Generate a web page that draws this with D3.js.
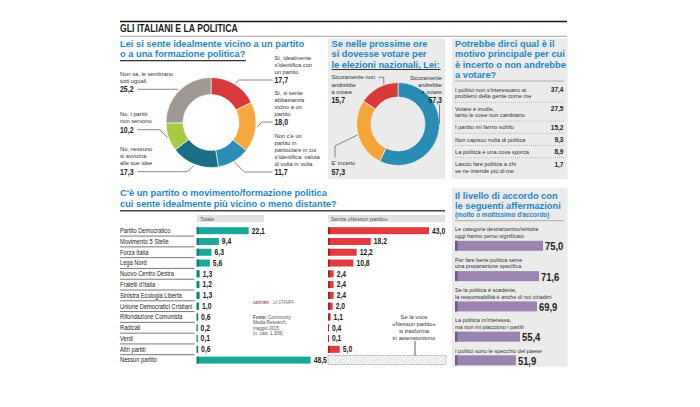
<!DOCTYPE html>
<html>
<head>
<meta charset="utf-8">
<script src="https://cdn.jsdelivr.net/npm/d3@7"></script>
<style>
    html, body { margin: 0; padding: 0; background: #fff; }
    svg { display: block; font-family: "Liberation Sans", Arial, sans-serif; }
</style>
</head>
<body>
<svg id="chart"></svg>
<script>
// Question 1: how close do you feel to a party (donut)
const closeLabels = [
    ["Sì, idealmente", "s'identifica con", "un partito"],
    ["Sì, si sente", "abbastanza", "vicino a un", "partito"],
    ["Non c'è un", "partito in", "particolare in cui", "s'identifica: valuta", "di volta in volta"],
    ["No, nessuno", "si avvicina", "alle sue idee"],
    ["No, i partiti", "non servono"],
    ["Non sa, le sembrano", "tutti uguali"]
];
const closeValues = [17.7, 18.0, 11.7, 17.3, 10.2, 25.2];

// Question 2: would you vote (donut)
const voteLabels = [
    ["Sicuramente", "andrebbe", "a votare"],
    ["E' incerto"],
    ["Sicuramente non", "andrebbe", "a votare"]
];
const voteValues = [57.3, 27.0, 15.7];
// the source prints 57,3 for "E' incerto" too
const votePrinted = ["57,3", "57,3", "15,7"];

// Question 3: main reason
const reasonLabels = [
    ["I politici non s'interessano ai", "problemi della gente come me"],
    ["Votare è inutile,", "tanto le cose non cambiano"],
    ["I partito mi fanno schifo"],
    ["Non capisco nulla di politica"],
    ["La politica è una cosa sporca"],
    ["Lascio fare politica a chi", "se ne intende più di me"]
];
const reasonValues = [37.4, 27.5, 15.2, 9.3, 8.9, 1.7];

// Question 4: closest party
const parties = [
    "Partito Democratico", "Movimento 5 Stelle", "Forza Italia", "Lega Nord",
    "Nuovo Centro Destra", "Fratelli d'Italia", "Sinistra Ecologia Libertà",
    "Unione Democratici Cristiani", "Rifondazione Comunista", "Radicali",
    "Verdi", "Altri partiti", "Nessun partito"
];
const totalValues = [22.1, 9.4, 6.3, 5.6, 1.3, 1.2, 1.3, 1.0, 0.6, 0.2, 0.1, 0.6, 48.5];
const withoutNoneValues = [43.0, 18.2, 12.2, 10.8, 2.4, 2.4, 2.4, 2.0, 1.1, 0.4, 0.1, 5.0];

// Question 5: agreement with statements
const agreeLabels = [
    ["Le categorie destra/centro/sinistra", "oggi hanno perso significato"],
    ["Per fare bene politica serve", "una preparazione specifica"],
    ["Se la politica è scadente,", "la responsabilità è anche di noi cittadini"],
    ["La politica m'interessa,", "ma non mi piacciono i partiti"],
    ["I politici sono le specchio del paese"]
];
const agreeValues = [75.0, 71.6, 69.9, 55.4, 51.9];

// Colours
const blue = '#1f87c7';
const closeColors = ['#d93a3b', '#f6a83f', '#2b8fb5', '#1b6e86', '#a9ca45', '#a09893'];
const voteColors = ['#2a8db3', '#f5a63b', '#d83a3a'];

// Layout of the donut value labels (y of the value line)
const closeValueY = [80, 122, 172, 171.7, 129.7, 89.3];

const squeeze = 0.82;
const fmt = (v) => d3.format('.1f')(v).replace('.', ',');

const svg = d3.select('#chart').attr('width', 700).attr('height', 407);
svg.append('rect').attr('width', 700).attr('height', 407).attr('fill', '#fff');

// Text helper: narrow text centred on cy
function addText(g, x, cy, str, size, opt) {
    opt = opt || {};
    return g.append('text')
        .attr('transform', `translate(${x},${(cy + size * 0.34).toFixed(2)}) scale(${opt.sx || squeeze},1)`)
        .attr('text-anchor', opt.anchor || 'start')
        .attr('font-size', size)
        .attr('font-weight', opt.bold ? 'bold' : 'normal')
        .attr('fill', opt.fill || '#333')
        .text(str);
}

// small multi-line labels
const small = { size: 6.2, sx: 0.93 };
const tiny = { size: 5.9, sx: 0.97 };

function rule(x1, x2, y, color, width, dash) {
    svg.append('line')
        .attr('x1', x1).attr('x2', x2).attr('y1', y).attr('y2', y)
        .attr('stroke', color).attr('stroke-width', width)
        .attr('stroke-dasharray', dash || null);
}

function leader(points) {
    svg.append('path')
        .attr('d', d3.line()(points))
        .attr('fill', 'none')
        .attr('stroke', '#555')
        .attr('stroke-width', 0.7);
}

function polar(cx, cy, a, r) {
    return [cx + r * Math.sin(a), cy - r * Math.cos(a)];
}

function heading(x, y0, lines) {
    lines.forEach((s, k) => addText(svg, x, y0 + k * 10.3, s, 9.2, { bold: true, fill: blue, sx: 1.01 }));
}

// Header and panel backgrounds
function drawFrame() {
    rule(120, 567, 21.5, '#1a1a1a', 1.6);
    addText(svg, 120, 28.8, 'GLI ITALIANI E LA POLITICA', 10.6, { bold: true, fill: '#1a1a1a' });
    rule(120, 567, 36.3, '#888', 0.8);

    svg.append('rect').attr('x', 328).attr('y', 38.5).attr('width', 117).attr('height', 140.5).attr('fill', '#ebebeb');
    svg.append('rect').attr('x', 452).attr('y', 38.5).attr('width', 115.5).attr('height', 140.5).attr('fill', '#ebebeb');
    svg.append('rect').attr('x', 452).attr('y', 187.7).attr('width', 115.5).attr('height', 179).attr('fill', '#ebebeb');
}

// Donut 1
function drawCloseDonut() {
    const cx = 211, cy = 122.5, R = 45, r = 28;
    heading(120, 44, ["Lei si sente idealmente vicino a un partito", "o a una formazione politica?"]);
    rule(120, 246, 60.7, '#333', 1.3);

    const pie = d3.pie().sort(null).value((d) => d)(closeValues);
    const arc = d3.arc().innerRadius(r).outerRadius(R);
    svg.append('g')
        .attr('transform', `translate(${cx},${cy})`)
        .selectAll('path')
        .data(pie)
        .enter()
        .append('path')
        .attr('d', arc)
        .attr('fill', (d, i) => closeColors[i])
        .attr('stroke', '#fff')
        .attr('stroke-width', 0.6);

    pie.forEach((d, i) => {
        const right = i < 3;
        const vy = closeValueY[i];
        const lx = right ? 274.5 : 120;
        const ex = right ? 272.5 : 137.5;
        const p = polar(cx, cy, (d.startAngle + d.endAngle) / 2, R + 1);
        const dx = Math.abs(vy - p[1]);
        const elbow = [right ? Math.min(p[0] + dx, ex) : Math.max(p[0] - dx, ex), vy];
        leader([p, elbow, [ex, vy]]);

        const lines = closeLabels[i];
        lines.forEach((s, k) => addText(svg, lx, vy - 8.5 - (lines.length - 1 - k) * 7, s, small.size, { sx: small.sx }));
        addText(svg, lx, vy, fmt(closeValues[i]), 8.5, { bold: true, fill: '#222' });
    });
}

// Donut 2
function drawVoteDonut() {
    const cx = 398, cy = 124, R = 41.5, r = 27;
    heading(331.5, 44, ["Se nelle prossime ore", "si dovesse votare per", "le elezioni nazionali, Lei:"]);
    rule(331.5, 440.5, 69.5, '#333', 1.1);

    const pie = d3.pie().sort(null).value((d) => d)(voteValues);
    const arc = d3.arc().innerRadius(r).outerRadius(R);
    svg.append('g')
        .attr('transform', `translate(${cx},${cy})`)
        .selectAll('path')
        .data(pie)
        .enter()
        .append('path')
        .attr('d', arc)
        .attr('fill', (d, i) => voteColors[i])
        .attr('stroke', '#fff')
        .attr('stroke-width', 0.6);

    const at = (d, f, rr) => polar(cx, cy, d.startAngle + f * (d.endAngle - d.startAngle), rr);

    // Sicuramente andrebbe (right)
    voteLabels[0].forEach((s, k) => addText(svg, 442, 78.3 + k * 6.8, s, tiny.size, { anchor: 'end', sx: tiny.sx }));
    addText(svg, 442, 100, votePrinted[0], 8.5, { bold: true, fill: '#222', anchor: 'end' });
    const pb = at(pie[0], 0.437, R);
    leader([[pb[0], 104.5], pb]);

    // E' incerto (bottom left)
    addText(svg, 331.5, 163.3, voteLabels[1][0], small.size, { sx: small.sx });
    addText(svg, 331.5, 172, votePrinted[1], 8.5, { bold: true, fill: '#222' });
    const po = at(pie[1], 0.5, R + 0.5);
    leader([[335, 157.5], [335, po[1] + 11], po]);

    // Sicuramente non (top left)
    voteLabels[2].forEach((s, k) => addText(svg, 331.5, 77.3 + k * 7.2, s, small.size, { sx: small.sx }));
    addText(svg, 331.5, 100, votePrinted[2], 8.5, { bold: true, fill: '#222' });
    const pr = at(pie[2], 0.65, R + 0.5);
    leader([[378.5, 77.3], [pr[0], 77.3], pr]);
}

// Reasons list
function drawReasons() {
    heading(455, 44, ["Potrebbe dirci qual è il", "motivo principale per cui", "è incerto o non andrebbe", "a votare?"]);
    rule(455, 564, 81, '#999', 0.8);

    let cursor = 83.5;
    reasonLabels.forEach((lines, i) => {
        const c = cursor + 6.2;
        lines.forEach((s, k) => addText(svg, 455, c + k * 6.6, s, tiny.size, { sx: tiny.sx }));
        addText(svg, 563.5, c, fmt(reasonValues[i]), 8, { bold: true, fill: '#222', anchor: 'end' });
        cursor = c + (lines.length - 1) * 6.6 + 6;
        if (i < reasonLabels.length - 1) rule(455, 564, cursor, '#999', 0.6, '1,1');
    });
}

// Party bars
function drawParties() {
    heading(120, 193.3, ["C'è un partito o movimento/formazione politica", "cui sente idealmente più vicino o meno distante?"]);
    rule(120, 445, 210.7, '#444', 1.6);

    const defs = svg.append('defs');
    defs.append('pattern')
        .attr('id', 'hatch')
        .attr('patternUnits', 'userSpaceOnUse')
        .attr('width', 2.6).attr('height', 2.6)
        .attr('patternTransform', 'rotate(45)')
        .append('line')
        .attr('x1', 0).attr('y1', 0).attr('x2', 0).attr('y2', 2.6)
        .attr('stroke', '#aaa').attr('stroke-width', 0.9);

    const y = d3.scaleBand().domain(parties).range([225.3, 365.5]);
    const x = d3.scaleLinear().domain([0, 50]).range([0, 117.5]);
    const step = y.step();

    // column headers
    svg.append('rect').attr('x', 196.7).attr('y', 215).attr('width', 67.3).attr('height', 7).attr('fill', '#e2e2e2');
    addText(svg, 200, 218.5, 'Totale', 6.2, { fill: '#555', sx: 0.86 });
    svg.append('rect').attr('x', 328).attr('y', 215).attr('width', 117).attr('height', 7).attr('fill', '#e2e2e2');
    addText(svg, 331, 218.5, 'Senza «Nessun partito»', 6.2, { fill: '#555', sx: 0.86 });

    parties.forEach((p, i) => {
        const cy = y(p) + step / 2;
        addText(svg, 120, cy, p, 7, { fill: '#222' });
        if (i < parties.length - 1) rule(120, 194.5, y(p) + step, '#555', 0.8);
    });

    function bars(values, x0, color, dark) {
        const g = svg.append('g');
        g.selectAll('rect.bar')
            .data(values)
            .enter()
            .append('rect')
            .attr('class', 'bar')
            .attr('x', x0)
            .attr('y', (d, i) => y(parties[i]) + step / 2 - 3.5)
            .attr('width', (d) => Math.max(0.9, x(d)))
            .attr('height', 7)
            .attr('fill', color);
        g.selectAll('rect.stub')
            .data(values)
            .enter()
            .append('rect')
            .attr('class', 'stub')
            .attr('x', x0)
            .attr('y', (d, i) => y(parties[i]) + step / 2 - 3.5)
            .attr('width', (d) => Math.min(2, Math.max(0.9, x(d))))
            .attr('height', 7)
            .attr('fill', dark);
        values.forEach((d, i) => {
            addText(svg, x0 + Math.max(0.9, x(d)) + 3, y(parties[i]) + step / 2, fmt(d), 8.3, { bold: true, fill: '#222' });
        });
    }

    bars(totalValues, 196.7, '#1ba89b', '#0e7a70');
    bars(withoutNoneValues, 328, '#e23a3e', '#b21e24');

    // hatched "Nessun partito" in the second column
    const last = parties[parties.length - 1];
    svg.append('rect')
        .attr('x', 328).attr('y', y(last) + step / 2 - 4.5)
        .attr('width', 118).attr('height', 9)
        .attr('fill', 'url(#hatch)')
        .attr('stroke', '#aaa').attr('stroke-width', 0.6);
    ["Se la voce", "«Nessun partito»", "si trasforma", "in astensionismo"]
        .forEach((s, k) => addText(svg, 414, 316.7 + k * 7, s, small.size, { anchor: 'middle', sx: small.sx }));
    svg.append('line')
        .attr('x1', 415).attr('x2', 415)
        .attr('y1', 341).attr('y2', y(last) + step / 2 - 4.5)
        .attr('stroke', '#333').attr('stroke-width', 0.8);

    // credits
    const logo = addText(svg, 253, 302, '', 4.8, { fill: '#777' });
    logo.append('tspan').attr('fill', '#8a1c1c').attr('font-style', 'italic').text('cartimetri');
    logo.append('tspan').text(' · LA STAMPA');
    const src = addText(svg, 253, 317.7, '', 4.6, { fill: '#555', sx: 0.98 });
    src.append('tspan').attr('font-weight', 'bold').text('Fonte:');
    src.append('tspan').text(' Community');
    ["Media Research,", "maggio 2015", "(n. casi: 1.309)"]
        .forEach((s, k) => addText(svg, 253, 322.9 + k * 5.2, s, 4.6, { fill: '#555', sx: 0.98 }));
}

// Agreement bars
function drawAgreement() {
    heading(455, 195.5, ["Il livello di accordo con", "le seguenti affermazioni"]);
    addText(svg, 455, 214.5, "(molto o moltissimo d'accordo)", 7.4, { bold: true, fill: blue, sx: 0.86 });
    rule(455, 564, 220.7, '#999', 0.8);

    const y = d3.scaleBand().domain(d3.range(agreeValues.length)).range([225.8, 225.8 + 5 * 30.3]);
    const x = d3.scaleLinear().domain([0, 75]).range([0, 88]);

    agreeValues.forEach((v, i) => {
        const lines = agreeLabels[i];
        const top = y(i);
        lines.forEach((s, k) => addText(svg, 455, top + 3.5 + k * 6.7, s, tiny.size, { sx: 0.94 }));
        const by = top + 3.5 + (lines.length - 1) * 6.7 + 4.8;
        svg.append('rect').attr('x', 455).attr('y', by).attr('width', x(v)).attr('height', 10).attr('fill', '#9c84b2');
        svg.append('rect').attr('x', 455).attr('y', by).attr('width', 2.5).attr('height', 10).attr('fill', '#6f5a86');
        addText(svg, 455 + x(v) + 2, by + 5.5, fmt(v), 11.5, { bold: true, fill: '#222' });
    });
}

drawFrame();
drawCloseDonut();
drawVoteDonut();
drawReasons();
drawParties();
drawAgreement();
</script>
</body>
</html>
